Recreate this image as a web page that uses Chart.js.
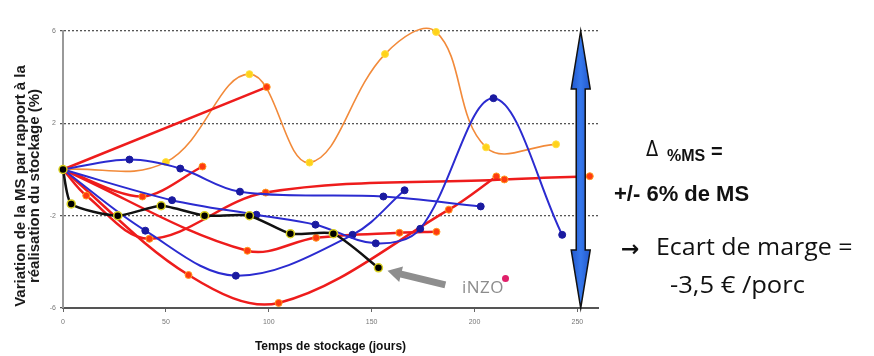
<!DOCTYPE html>
<html><head><meta charset="utf-8">
<script src="https://cdn.jsdelivr.net/npm/chart.js@4"></script>
<style>
html,body{margin:0;padding:0;background:#fff;}
#wrap{position:relative;width:874px;height:356px;overflow:hidden;background:#fff;}
canvas{position:absolute;left:0;top:0;}
.t{position:absolute;white-space:nowrap;line-height:1;color:#111;}
#ytitle{position:absolute;left:-103px;top:172px;width:260px;height:28px;transform:rotate(-90deg);transform-origin:50% 50%;
  text-align:center;font:bold 15px "Liberation Sans",Arial,sans-serif;line-height:14px;color:#1a1a1a;white-space:nowrap;}
.arial{font-family:"Liberation Sans",Arial,sans-serif;font-weight:bold;}
.calib{font-family:"Open Sans",sans-serif;transform-origin:0 50%;}
</style></head><body>
<div id="wrap">
<canvas id="c" width="874" height="356"></canvas>
<div id="ytitle">Variation de la MS par rapport à la<br>réalisation du stockage (%)</div>
<span class="t" style="left:646px;top:137px;font:21px 'DejaVu Sans',sans-serif;font-weight:normal;transform:scaleX(0.85);transform-origin:0 50%;">Δ</span>
<span class="t arial" style="left:667px;top:148px;font-size:16px;">%MS</span>
<span class="t arial" style="left:711px;top:141px;font-size:20px;">=</span>
<span class="t arial" style="left:614px;top:183px;font-size:22px;">+/- 6% de MS</span>
<span class="t" style="left:621px;top:236px;font:bold 22px 'DejaVu Sans',sans-serif;">→</span>
<span class="t calib" style="left:656px;top:235px;font-size:23px;transform:scaleX(1.085);">Ecart de marge =</span>
<span class="t calib" style="left:670px;top:273px;font-size:23px;transform:scaleX(1.11);">-3,5 € /porc</span>
<span class="t calib" style="left:462px;top:278px;font-size:17px;color:#8c8c8c;letter-spacing:0.5px;">iNZO</span>
<div style="position:absolute;left:502px;top:275px;width:7px;height:7px;border-radius:50%;background:#E0206A;"></div>
</div>
<script>
// ---- tick labels / titles ----
const xTickValues = [0, 50, 100, 150, 200, 250];
const yTickValues = [-6, -2, 2, 6];
const xTitle = 'Temps de stockage (jours)';

// ---- series (days, % MS variation) ----
const orangeDays = [0, 50, 90.6, 119.8, 156.5, 181.3, 205.6, 239.6];
const orangeVals = [0, 0.32, 4.13, 0.3, 5.0, 5.96, 0.96, 1.09];

const redStraightDays = [0, 99];
const redStraightVals = [0, 3.57];

const redVDays = [0, 38.6, 67.8];
const redVVals = [0, -1.17, 0.13];

const redLongDays = [0, 11.3, 42, 98.5, 214.5, 256];
const redLongVals = [0, -1.13, -3.0, -1.0, -0.43, -0.29];

const redDeepDays = [0, 61, 104.8, 187.5, 210.6];
const redDeepVals = [0, -4.57, -5.78, -1.74, -0.30];

const redMidDays = [0, 89.6, 123, 163.5, 181.5];
const redMidVals = [0, -3.52, -2.96, -2.74, -2.70];

const blueTopDays = [0, 32.3, 57, 86, 155.7, 203];
const blueTopVals = [0, 0.43, 0.04, -0.96, -1.17, -1.6];

const bluePeakDays = [0, 53, 94, 122.7, 152, 173.6, 209.2, 242.6];
const bluePeakVals = [0, -1.33, -1.96, -2.39, -3.2, -2.57, 3.09, -2.83];

const blueDeepDays = [0, 40, 84, 140.7, 166];
const blueDeepVals = [0, -2.65, -4.6, -2.83, -0.9];

const inzoDays = [0, 4, 26.6, 47.7, 68.8, 90.6, 110.5, 131.4, 153.3];
const inzoVals = [0, -1.49, -2.0, -1.57, -2.0, -2.0, -2.78, -2.78, -4.26];

// ---- decorations (positions in data units) ----
const decor = {
  arrowDay: 251.6, arrowTop: 6, arrowBottom: -6,
  greyTip: [157.7, -4.39], greyTail: [185.8, -5.0]
};

const pts = (xs, ys) => xs.map((v, i) => ({x: v, y: ys[i]}));

const RED = '#EE1C1C', BLUE = '#2B2BD0', ORANGE = '#F28A3A';
function redSet(xs, ys, tension) {
  return {data: pts(xs, ys), borderColor: RED, borderWidth: 2.5, tension: tension,
    pointRadius: 3.5, pointBackgroundColor: '#FF3A10', pointBorderColor: '#FF9A20', pointBorderWidth: 1};
}
function blueSet(xs, ys) {
  return {data: pts(xs, ys), borderColor: BLUE, borderWidth: 2, tension: 0.35,
    pointRadius: 3.5, pointBackgroundColor: '#1A1AA0', pointBorderColor: '#1A1AA0', pointBorderWidth: 1};
}

const arrowPlugin = {
  id: 'arrows',
  afterDatasetsDraw(chart) {
    const {ctx, scales: {x, y}} = chart;
    const cx = x.getPixelForValue(decor.arrowDay);
    const top = y.getPixelForValue(decor.arrowTop);
    const bot = y.getPixelForValue(decor.arrowBottom);
    const hw = 9.5, sw = 4.5, hl = 58;
    ctx.save();
    ctx.beginPath();
    ctx.moveTo(cx, top);
    ctx.lineTo(cx + hw, top + hl);
    ctx.lineTo(cx + sw, top + hl);
    ctx.lineTo(cx + sw, bot - hl);
    ctx.lineTo(cx + hw, bot - hl);
    ctx.lineTo(cx, bot);
    ctx.lineTo(cx - hw, bot - hl);
    ctx.lineTo(cx - sw, bot - hl);
    ctx.lineTo(cx - sw, top + hl);
    ctx.lineTo(cx - hw, top + hl);
    ctx.closePath();
    const g = ctx.createLinearGradient(cx - hw, 0, cx + hw, 0);
    g.addColorStop(0, '#2358CC'); g.addColorStop(0.5, '#3678EC'); g.addColorStop(1, '#2358CC');
    ctx.fillStyle = g;
    ctx.fill();
    ctx.lineWidth = 1.5; ctx.strokeStyle = '#111'; ctx.lineJoin = 'miter';
    ctx.stroke();

    // grey arrow pointing to the iNZO curve
    const tx = x.getPixelForValue(decor.greyTip[0]), ty = y.getPixelForValue(decor.greyTip[1]);
    const ex = x.getPixelForValue(decor.greyTail[0]), ey = y.getPixelForValue(decor.greyTail[1]);
    const dx = ex - tx, dy = ey - ty, L = Math.hypot(dx, dy);
    const ux = dx / L, uy = dy / L, nx = -uy, ny = ux;
    const headL = 14, headW = 8, shW = 3.5;
    const bx = tx + ux * headL, by = ty + uy * headL;
    ctx.beginPath();
    ctx.moveTo(tx, ty);
    ctx.lineTo(bx + nx * headW, by + ny * headW);
    ctx.lineTo(bx + nx * shW, by + ny * shW);
    ctx.lineTo(ex + nx * shW, ey + ny * shW);
    ctx.lineTo(ex - nx * shW, ey - ny * shW);
    ctx.lineTo(bx - nx * shW, by - ny * shW);
    ctx.lineTo(bx - nx * headW, by - ny * headW);
    ctx.closePath();
    ctx.fillStyle = '#8E8E8E';
    ctx.fill();
    ctx.restore();
  }
};

Chart.defaults.font.family = '"Liberation Sans", Arial, sans-serif';

new Chart(document.getElementById('c'), {
  type: 'line',
  data: {
    datasets: [
      {data: pts(inzoDays, inzoVals), borderColor: '#111', borderWidth: 2.5, tension: 0.2,
        pointRadius: 4, pointBackgroundColor: '#000', pointBorderColor: '#D8D020', pointBorderWidth: 1.5},
      blueSet(blueTopDays, blueTopVals),
      blueSet(bluePeakDays, bluePeakVals),
      blueSet(blueDeepDays, blueDeepVals),
      redSet(redStraightDays, redStraightVals, 0),
      redSet(redVDays, redVVals, 0.3),
      redSet(redLongDays, redLongVals, 0.35),
      redSet(redDeepDays, redDeepVals, 0.35),
      redSet(redMidDays, redMidVals, 0.35),
      {data: pts(orangeDays, orangeVals), borderColor: ORANGE, borderWidth: 1.6, tension: 0.4,
        pointRadius: 3.5, pointBackgroundColor: '#FFD21A', pointBorderColor: '#FFE040', pointBorderWidth: 1}
    ]
  },
  options: {
    responsive: false,
    animation: false,
    devicePixelRatio: 1,
    elements: {line: {capBezierPoints: false}},
    datasets: {line: {clip: false}},
    layout: {padding: {top: 31, right: 276, left: 0, bottom: 0}},
    plugins: {legend: {display: false}, tooltip: {enabled: false}},
    scales: {
      x: {
        type: 'linear', min: 0, max: 260,
        afterBuildTicks: s => { s.ticks = xTickValues.map(v => ({value: v})); },
        afterFit: s => { s.height = 48; },
        ticks: {font: {size: 7}, color: '#777', padding: 6, maxRotation: 0, autoSkip: false},
        grid: {drawOnChartArea: false, drawTicks: true, tickLength: 4, color: '#666', lineWidth: 1},
        border: {display: true, color: '#555', width: 2},
        title: {display: true, text: xTitle, color: '#111',
          font: {size: 12, weight: 'bold'}, padding: {top: 0, bottom: 2}}
      },
      y: {
        type: 'linear', min: -6, max: 6,
        afterBuildTicks: s => { s.ticks = yTickValues.map(v => ({value: v})); },
        afterFit: s => { s.width = 63; },
        ticks: {font: {size: 7}, color: '#777', padding: 4},
        grid: {color: '#555', lineWidth: 1.3, tickLength: 3, drawTicks: true},
        border: {display: true, color: '#999', width: 2, dash: [2, 2]}
      }
    }
  },
  plugins: [arrowPlugin]
});
</script>
</body></html>
